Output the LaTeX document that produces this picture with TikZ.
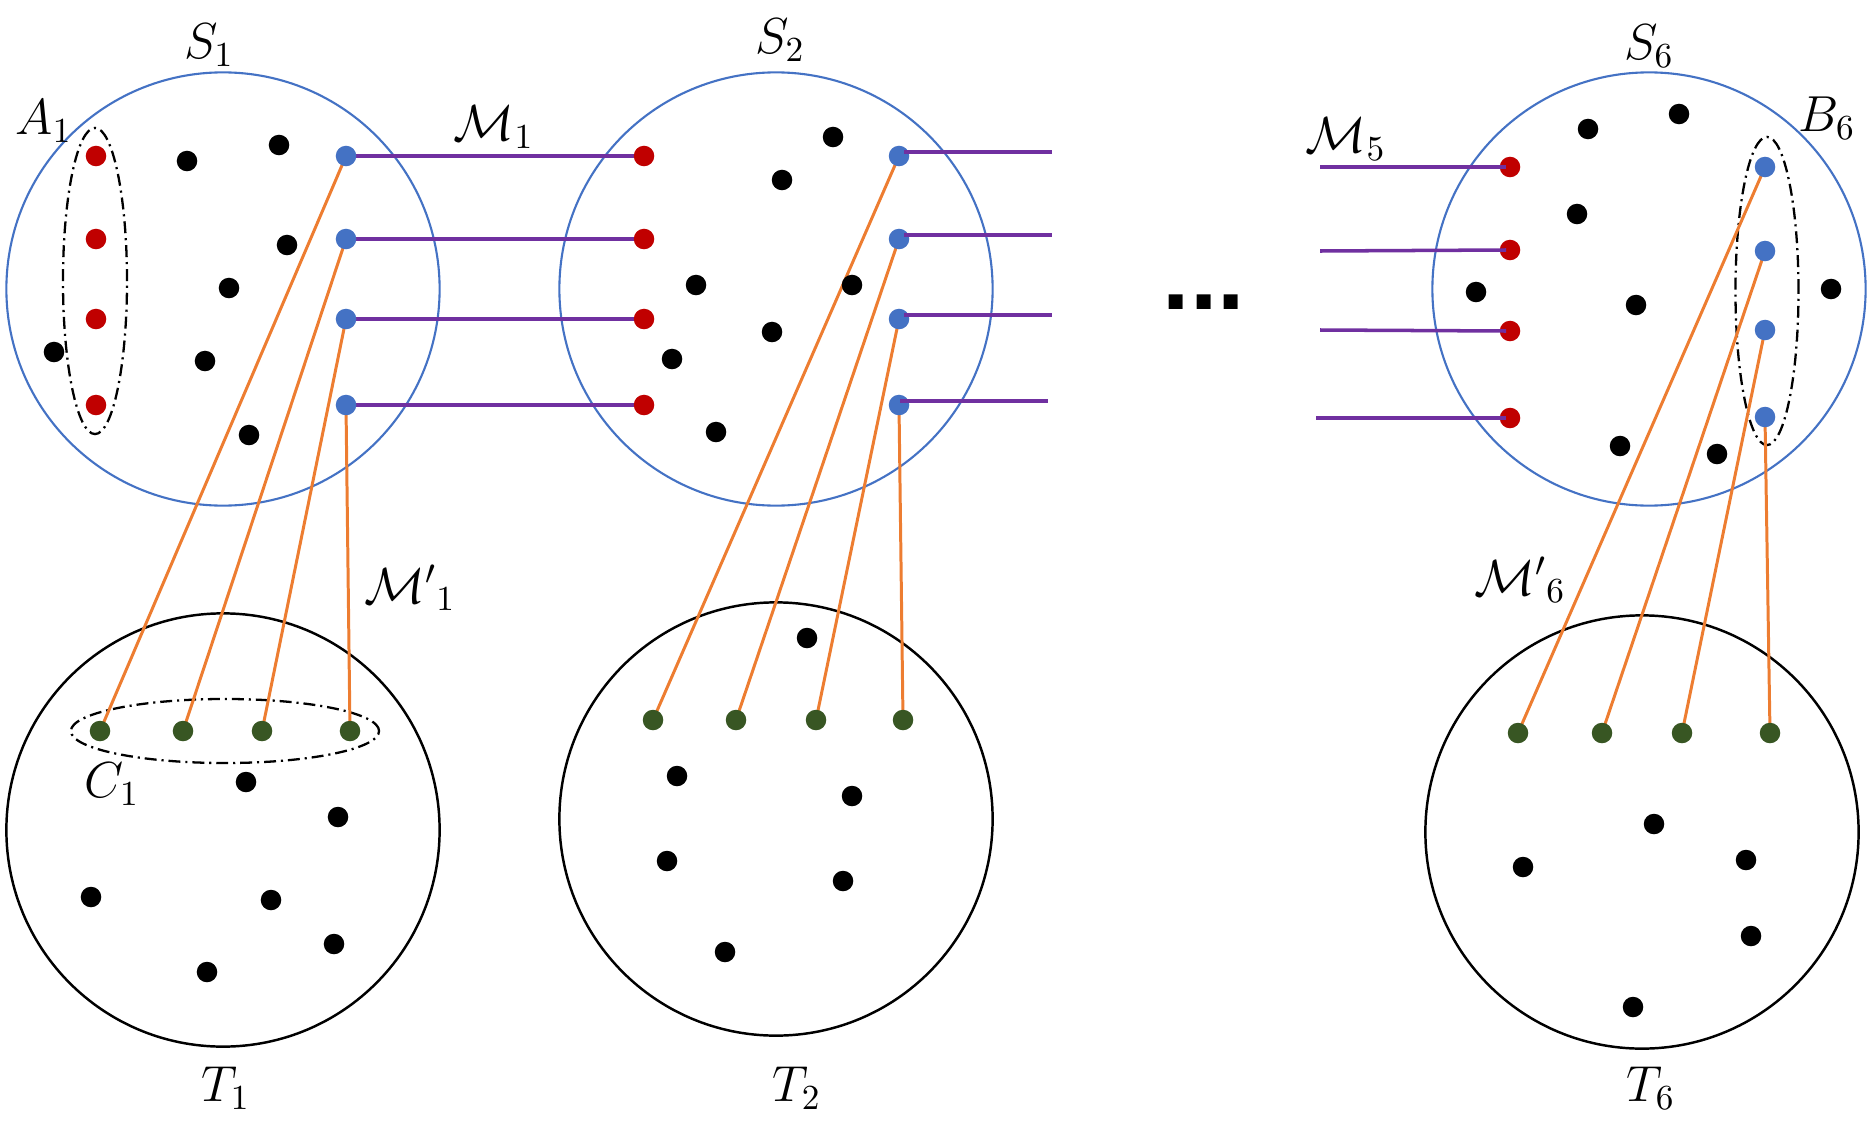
\documentclass[tikz,border=0pt]{standalone}
\usepackage{fontspec}
\newfontfamily\dotsfont{Liberation Sans}
\usetikzlibrary{shapes.geometric}
\definecolor{setblue}{RGB}{68,114,196}
\definecolor{dotred}{RGB}{192,0,0}
\definecolor{dotblue}{RGB}{68,114,196}
\definecolor{dotgreen}{RGB}{56,86,35}
\definecolor{lineorange}{RGB}{237,125,49}
\definecolor{linepurple}{RGB}{112,48,160}
\pgfdeclarelayer{bg}
\pgfsetlayers{bg,main}
\begin{document}
\begin{tikzpicture}[x=0.01cm,y=-0.01cm,
  dotbase/.style={circle,inner sep=0pt,minimum size=0.205cm,draw=none},
  bdot/.style={dotbase,fill=black},
  rdot/.style={dotbase,fill=dotred},
  udot/.style={dotbase,fill=dotblue},
  gdot/.style={dotbase,fill=dotgreen},
  sset/.style={circle,draw=setblue,line width=0.6pt,minimum size=4.33cm,inner sep=0pt},
  tset/.style={circle,draw=black,line width=0.7pt,minimum size=4.33cm,inner sep=0pt},
  grp/.style={ellipse,draw=black,line width=0.65pt,inner sep=0pt,
    dash pattern=on 3.4pt off 1.4pt on 0.6pt off 1.4pt},
  orng/.style={draw=lineorange,line width=0.85pt},
  purp/.style={draw=linepurple,line width=1pt},
  lbl/.style={inner sep=0pt,font=\fontsize{14}{16}\selectfont}
]
\useasboundingbox (0,0) rectangle (1872,1121);

% ---------- S1 ----------
\foreach \y [count=\i] in {156,239,319,405} {
  \node[rdot] (r1\i) at (96,\y) {};
  \node[udot] (b1\i) at (346,\y) {};
}
\foreach \p [count=\i] in {(187,161),(279,145),(287,245),(229,288),(54,352),(205,361),(249,435)}
  \node[bdot] (s1k\i) at \p {};

% ---------- S2 ----------
\foreach \y [count=\i] in {156,239,319,405} {
  \node[rdot] (r2\i) at (644,\y) {};
  \node[udot] (b2\i) at (899,\y) {};
}
\foreach \p [count=\i] in {(833,137),(782,180),(696,285),(852,285),(772,332),(672,359),(716,432)}
  \node[bdot] (s2k\i) at \p {};

% ---------- S6 ----------
\foreach \y [count=\i] in {167,250,331,418} {
  \node[rdot] (r6\i) at (1510,\y) {};
}
\foreach \y [count=\i] in {167,251,330,417} {
  \node[udot] (b6\i) at (1765,\y) {};
}
\foreach \p [count=\i] in {(1588,129),(1679,114),(1577,214),(1476,292),(1636,305),(1831,289),(1620,446),(1717,454)}
  \node[bdot] (s6k\i) at \p {};

% ---------- T1 ----------
\foreach \x [count=\i] in {100,183,262,350}
  \node[gdot] (g1\i) at (\x,731) {};
\foreach \p [count=\i] in {(246,782),(338,817),(91,897),(271,900),(334,944),(207,972)}
  \node[bdot] (t1k\i) at \p {};

% ---------- T2 ----------
\foreach \x [count=\i] in {653,736,816,903}
  \node[gdot] (g2\i) at (\x,720) {};
\foreach \p [count=\i] in {(807,638),(677,776),(852,796),(667,861),(843,881),(725,952)}
  \node[bdot] (t2k\i) at \p {};

% ---------- T6 ----------
\foreach \x [count=\i] in {1518,1602,1682,1770}
  \node[gdot] (g6\i) at (\x,733) {};
\foreach \p [count=\i] in {(1654,824),(1523,867),(1746,860),(1751,936),(1633,1007)}
  \node[bdot] (t6k\i) at \p {};

% ---------- background: sets, groups, matchings ----------
\begin{pgfonlayer}{bg}
  \node[sset] (S1) at (223,289) {};
  \node[sset] (S2) at (776,289) {};
  \node[sset] (S6) at (1649,289) {};
  \node[tset] (T1) at (223,830) {};
  \node[tset] (T2) at (776,819) {};
  \node[tset] (T6) at (1642,832) {};
  \node[grp,minimum width=0.64cm,minimum height=3.06cm] (A1) at (95,281) {};
  \node[grp,minimum width=0.63cm,minimum height=3.08cm] (B6) at (1767,291) {};
  \node[grp,minimum width=3.08cm,minimum height=0.64cm] (C1) at (225,731) {};
  \foreach \i in {1,2,3,4} {
    \draw[purp] (b1\i.center) -- (r2\i.center);
    \draw[orng] (b1\i.center) -- (g1\i.center);
    \draw[orng] (b2\i.center) -- (g2\i.center);
    \draw[orng] (b6\i.center) -- (g6\i.center);
  }
\end{pgfonlayer}

% ---------- free-ended matching edges ----------
\coordinate (o21) at (1052,152);
\coordinate (o22) at (1052,235);
\coordinate (o23) at (1052,315);
\coordinate (o24) at (1048,401);
\draw[purp] ([shift={(5,-4)}]b21.center) -- (o21);
\draw[purp] ([shift={(5,-4)}]b22.center) -- (o22);
\draw[purp] ([shift={(5,-4)}]b23.center) -- (o23);
\draw[purp] ([shift={(1,-4)}]b24.center) -- (o24);

\coordinate (i61) at (1320,167);
\coordinate (i62) at (1320,251);
\coordinate (i63) at (1320,330);
\coordinate (i64) at (1316,418);
\foreach \i in {1,2,3,4}
  \draw[purp] (i6\i) -- ([shift={(-4,0)}]r6\i.center);

% ---------- ellipsis ----------
\node[inner sep=0pt,font=\dotsfont\bfseries\fontsize{28}{30}\selectfont] (gap) at (1204,302) {...};

% ---------- labels ----------
\node[lbl] (lS1) at (209,45) {$S_1$};
\node[lbl] (lS2) at (780,40) {$S_2$};
\node[lbl] (lS6) at (1649,46) {$S_6$};
\node[lbl] (lA1) at (44,121) {$A_1$};
\node[lbl] (lB6) at (1827,118) {$B_6$};
\node[lbl] (lC1) at (112,784) {$C_1$};
\node[lbl] (lM1) at (494,127) {$\mathcal{M}_1$};
\node[lbl] (lM5) at (1346,139) {$\mathcal{M}_5$};
\node[lbl] (lMp1) at (410,588) {${\mathcal{M}'}_1$};
\node[lbl] (lMp6) at (1520,580) {${\mathcal{M}'}_6$};
\node[lbl] (lT1) at (226,1088) {$T_1$};
\node[lbl] (lT2) at (797,1088) {$T_2$};
\node[lbl] (lT6) at (1651,1088) {$T_6$};
\end{tikzpicture}
\end{document}
